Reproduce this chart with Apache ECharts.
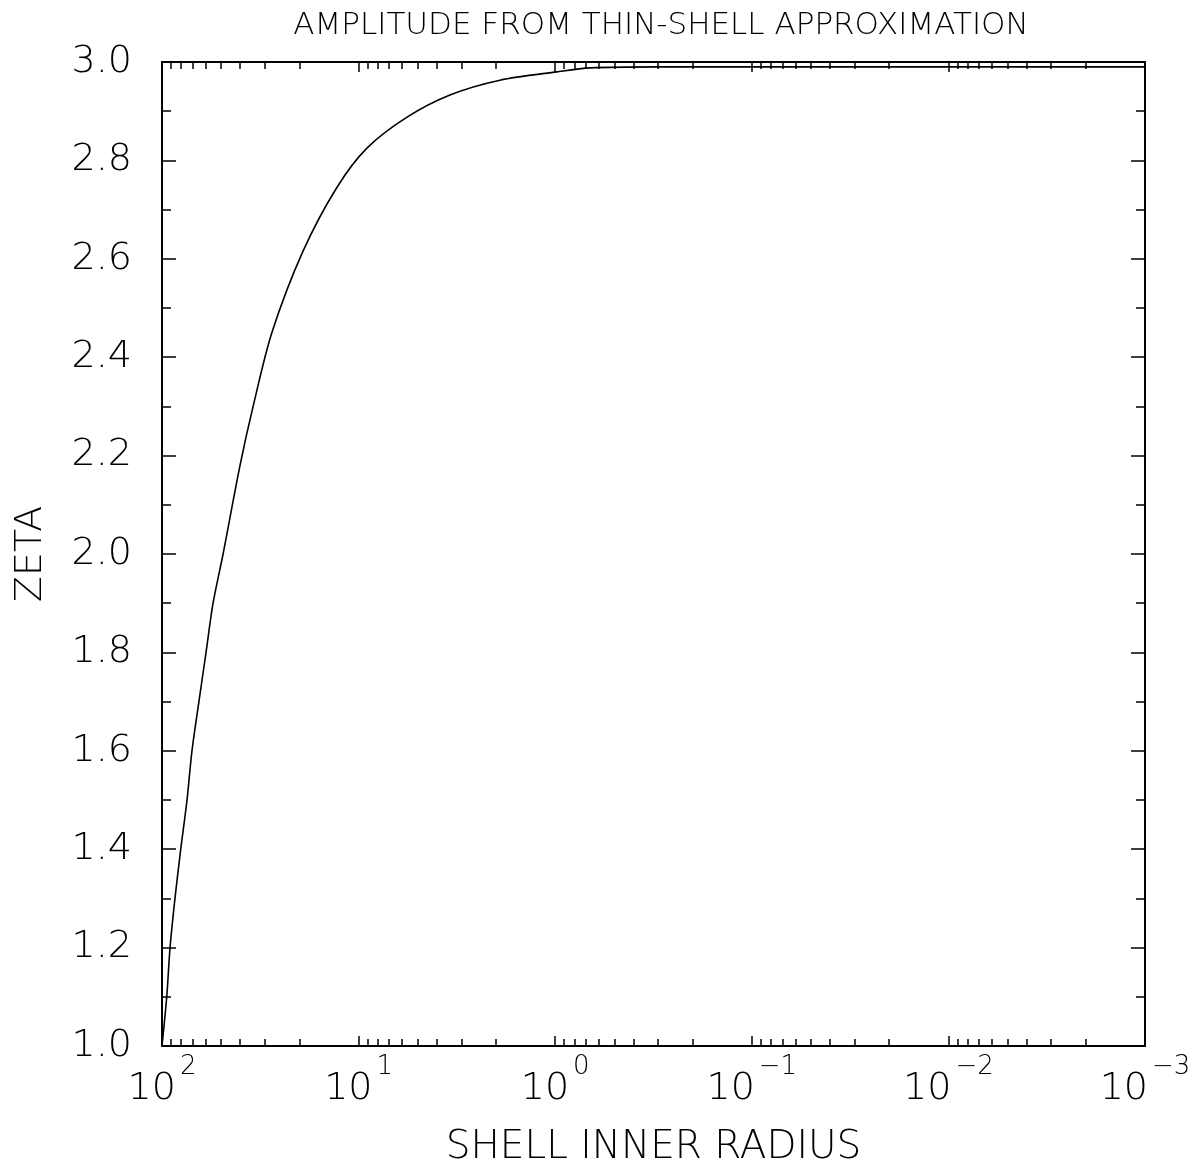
<!DOCTYPE html>
<html>
<head>
<meta charset="utf-8">
<script src="https://cdn.jsdelivr.net/npm/echarts@6/dist/echarts.min.js"></script>
<style>
  html, body { margin: 0; padding: 0; background: #fff; }
  #chart { width: 1198px; height: 1173px; }
</style>
</head>
<body>
<div id="chart"></div>
<script>
// ---- data ----
const radius = [100, 94.6, 91.0, 85.9, 80.3, 74.6, 70.4, 64.9, 59.7, 55.0, 48.9, 40.1, 34.4, 27.6, 19.2, 12.9, 9.07, 5.67, 3.43, 1.91, 0.98, 0.665, 0.3, 0.1, 0.01, 0.001];
const zeta   = [1.0, 1.1, 1.2, 1.3, 1.4, 1.5, 1.6, 1.7, 1.8, 1.9, 2.0, 2.18, 2.30, 2.45, 2.615, 2.745, 2.825, 2.888, 2.933, 2.963, 2.98, 2.988, 2.99, 2.99, 2.99, 2.99];

// ---- ticks ----
const decadeTicks = [100, 10, 1, 0.1, 0.01, 0.001];
const minorMultipliers = [2, 3, 4, 5, 6, 7, 8, 9];
const minorDecades = [10, 1, 0.1, 0.01, 0.001];
const minorTicks = [];
minorDecades.forEach(d => minorMultipliers.forEach(k => minorTicks.push(+(k * d).toPrecision(3))));

const titleText = 'AMPLITUDE FROM THIN-SHELL APPROXIMATION';
const xName = 'SHELL INNER RADIUS';
const yName = 'ZETA';

const FONT = '"DejaVu Sans", sans-serif';
const chart = echarts.init(document.getElementById('chart'), null, { renderer: 'canvas' });

function xAxisBase(pos, ticks, len, showLine) {
  return {
    type: 'log', logBase: 10, min: 0.001, max: 100, inverse: true,
    position: pos, gridIndex: 0,
    axisLine: { show: showLine, onZero: false, lineStyle: { color: '#000', width: 2 } },
    axisTick: { show: true, inside: true, length: len, customValues: ticks, lineStyle: { color: '#000', width: 1.5 } },
    minorTick: { show: false },
    splitLine: { show: false },
    axisLabel: { show: false }
  };
}

const xMainBottom = xAxisBase('bottom', decadeTicks, 10, true);
xMainBottom.axisLabel = {
  show: true, customValues: decadeTicks, margin: 8,
  formatter: v => {
    const e = Math.round(Math.log10(v));
    return '{b|10}{s|' + (e < 0 ? '\u2212' + (-e) : e) + '}';
  },
  rich: {
    b: { fontFamily: FONT, fontWeight: 200, fontSize: 38, color: '#000', padding: [16, 0, 0, 0] },
    s: { fontFamily: FONT, fontWeight: 200, fontSize: 26, color: '#000', verticalAlign: 'top', padding: [0, 0, 0, 4] }
  }
};
xMainBottom.name = xName;
xMainBottom.nameLocation = 'middle';
xMainBottom.nameGap = 82;
xMainBottom.nameTextStyle = { fontFamily: FONT, fontWeight: 200, fontSize: 39, color: '#000' };

function yAxisBase(pos, showLabel) {
  return {
    type: 'value', min: 1.0, max: 3.0, interval: 0.2, position: pos,
    axisLine: { show: true, onZero: false, lineStyle: { color: '#000', width: 2 } },
    axisTick: { show: true, inside: true, length: 14, lineStyle: { color: '#000', width: 1.5 } },
    minorTick: { show: true, splitNumber: 2, length: 9, lineStyle: { color: '#000', width: 1.5 } },
    splitLine: { show: false },
    axisLabel: showLabel ? {
      margin: 30, fontFamily: FONT, fontWeight: 200, fontSize: 38, color: '#000',
      formatter: v => v.toFixed(1)
    } : { show: false }
  };
}
const yLeft = yAxisBase('left', true);
yLeft.name = yName;
yLeft.nameLocation = 'middle';
yLeft.nameGap = 112;
yLeft.nameTextStyle = { fontFamily: FONT, fontWeight: 200, fontSize: 38, color: '#000' };

const option = {
  backgroundColor: '#fff',
  animation: false,
  title: {
    text: titleText, left: 656, top: 5, textAlign: 'center',
    textStyle: { fontFamily: FONT, fontWeight: 200, fontSize: 31, color: '#000' }
  },
  grid: { left: 162, right: 53, top: 62, bottom: 127, containLabel: false, outerBoundsMode: 'none' },
  xAxis: [
    xMainBottom,
    xAxisBase('bottom', minorTicks, 7, false),
    xAxisBase('top', decadeTicks, 10, true),
    xAxisBase('top', minorTicks, 7, false)
  ],
  yAxis: [yLeft, yAxisBase('right', false)],
  series: [{
    type: 'line', xAxisIndex: 0, yAxisIndex: 0,
    data: radius.map((r, i) => [r, zeta[i]]),
    showSymbol: false, smooth: 0.3,
    lineStyle: { color: '#000', width: 1.6 }
  }]
};
chart.setOption(option);
</script>
</body>
</html>
